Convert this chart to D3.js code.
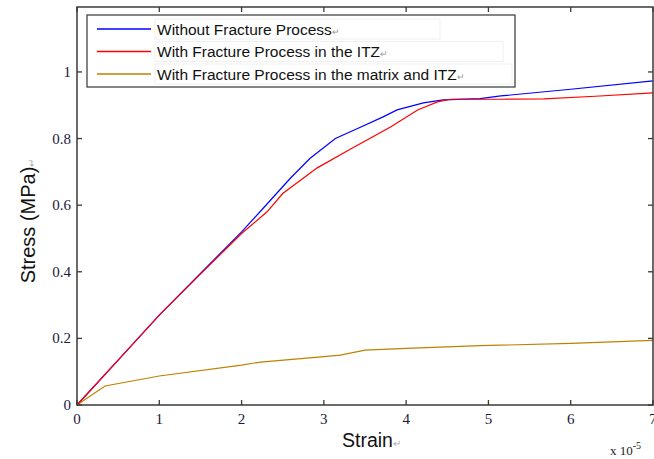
<!DOCTYPE html>
<html>
<head>
<meta charset="utf-8">
<script src="https://cdn.jsdelivr.net/npm/d3@7"></script>
<style>
  html, body { margin: 0; padding: 0; background: #fff; }
  svg { display: block; }
</style>
</head>
<body>
<svg id="chart" width="654" height="459"></svg>
<script>
// Strain (x 10^-5) vs stress (MPa) for three modelling assumptions
const strainNoFrac = [0, 0.5, 1, 1.5, 2, 2.26, 2.59, 2.83, 3.14, 3.41, 3.72, 3.89, 4.21, 4.45, 4.9, 5.15, 6, 7.0];
const stressNoFrac = [0, 0.135, 0.27, 0.395, 0.52, 0.59, 0.68, 0.74, 0.80, 0.83, 0.865, 0.886, 0.907, 0.916, 0.92, 0.928, 0.948, 0.973];

const strainItz = [0, 0.5, 1, 1.5, 2, 2.31, 2.5, 2.92, 3.32, 3.81, 4.14, 4.38, 4.54, 5.15, 5.67, 6.3, 7.0];
const stressItz = [0, 0.135, 0.27, 0.393, 0.515, 0.58, 0.635, 0.712, 0.768, 0.835, 0.886, 0.91, 0.918, 0.918, 0.919, 0.927, 0.937];

const strainMatrix = [0, 0.34, 1, 2, 2.23, 3, 3.2, 3.5, 4, 4.9, 6, 7.0];
const stressMatrix = [0, 0.057, 0.087, 0.12, 0.129, 0.145, 0.15, 0.165, 0.17, 0.178, 0.185, 0.194];

const seriesNames = ["Without Fracture Process", "With Fracture Process in the ITZ", "With Fracture Process in the matrix and ITZ"];
const seriesColors = ["#0000ff", "#ff0000", "#c08000"];

const xTicks = [0, 1, 2, 3, 4, 5, 6, 7];
const yTicks = [0, 0.2, 0.4, 0.6, 0.8, 1];

const svg = d3.select("#chart");
const plot = { left: 77, right: 653, top: 7, bottom: 405 };

const x = d3.scaleLinear().domain([0, 7]).range([plot.left, plot.right]);
const y = d3.scaleLinear().domain([0, 1.195]).range([plot.bottom, plot.top]);

const tickLen = 5;
const axisColor = "#3a3a3a";
const serif = "'Liberation Serif', 'Times New Roman', serif";
const sans = "'Liberation Sans', Arial, sans-serif";

// Curves (the ITZ curve lies on top of the intact curve)
const series = [
  { xs: strainNoFrac, ys: stressNoFrac },
  { xs: strainItz, ys: stressItz },
  { xs: strainMatrix, ys: stressMatrix }
];
const line = d3.line().x(d => x(d[0])).y(d => y(d[1]));
const drawOrder = [0, 2, 1];
drawOrder.forEach(i => {
  const pts = series[i].xs.map((v, k) => [v, series[i].ys[k]]);
  svg.append("path")
    .datum(pts)
    .attr("d", line)
    .attr("fill", "none")
    .attr("stroke", seriesColors[i])
    .attr("stroke-width", 1.2);
});

// Frame
svg.append("rect")
  .attr("x", plot.left).attr("y", plot.top)
  .attr("width", plot.right - plot.left).attr("height", plot.bottom - plot.top)
  .attr("fill", "none").attr("stroke", axisColor).attr("stroke-width", 1.5);

// Inward ticks on all four sides
const tg = svg.append("g").attr("stroke", axisColor).attr("stroke-width", 1.3);
xTicks.forEach(t => {
  tg.append("line").attr("x1", x(t)).attr("x2", x(t)).attr("y1", plot.bottom).attr("y2", plot.bottom - tickLen);
  tg.append("line").attr("x1", x(t)).attr("x2", x(t)).attr("y1", plot.top).attr("y2", plot.top + tickLen);
});
yTicks.forEach(t => {
  tg.append("line").attr("x1", plot.left).attr("x2", plot.left + tickLen).attr("y1", y(t)).attr("y2", y(t));
  tg.append("line").attr("x1", plot.right).attr("x2", plot.right - tickLen).attr("y1", y(t)).attr("y2", y(t));
});

// Tick labels
svg.append("g").selectAll("text").data(xTicks).join("text")
  .attr("x", d => x(d)).attr("y", plot.bottom + 19)
  .attr("text-anchor", "middle")
  .attr("font-family", serif).attr("font-size", 15).attr("fill", "#1a1a3a")
  .text(d => d3.format("d")(d));

svg.append("g").selectAll("text").data(yTicks).join("text")
  .attr("x", plot.left - 6).attr("y", d => y(d) + 5)
  .attr("text-anchor", "end")
  .attr("font-family", serif).attr("font-size", 15).attr("fill", "#1a1a3a")
  .text(d => d === 0 ? "0" : d3.format("")(d));

// Axis titles
const xTitle = svg.append("text")
  .attr("x", 342).attr("y", 447)
  .attr("font-family", sans).attr("font-size", 19.5).attr("fill", "#111");
xTitle.append("tspan").text("Strain");
xTitle.append("tspan").attr("font-size", 10).attr("fill", "#aaa").text("\u21b5");

const yTitle = svg.append("text")
  .attr("transform", "translate(35,221) rotate(-90)")
  .attr("text-anchor", "middle")
  .attr("font-family", sans).attr("font-size", 20).attr("fill", "#111");
yTitle.append("tspan").text("Stress (MPa)");
yTitle.append("tspan").attr("font-size", 10).attr("fill", "#aaa").text("\u21b5");

// Exponent note
const expo = svg.append("text")
  .attr("x", 610).attr("y", 455)
  .attr("font-family", serif).attr("font-size", 13).attr("fill", "#222");
expo.append("tspan").text("x 10");
expo.append("tspan").attr("dy", -6).attr("font-size", 10).text("-5");

// Legend
const leg = svg.append("g");
leg.append("rect")
  .attr("x", 87).attr("y", 15).attr("width", 428).attr("height", 72)
  .attr("fill", "#fff").attr("stroke", "#444").attr("stroke-width", 1.3);
const rowY = [29, 51.5, 74];
const textBoxW = [285, 348, 357];
seriesNames.forEach((name, i) => {
  leg.append("rect")
    .attr("x", 155).attr("y", rowY[i] - 10).attr("width", textBoxW[i]).attr("height", 20)
    .attr("fill", "none").attr("stroke", "#f0f0f0").attr("stroke-width", 1);
  leg.append("line")
    .attr("x1", 97).attr("x2", 151).attr("y1", rowY[i]).attr("y2", rowY[i])
    .attr("stroke", seriesColors[i]).attr("stroke-width", 1.3);
  const t = leg.append("text")
    .attr("x", 157).attr("y", rowY[i] + 5.5)
    .attr("font-family", sans).attr("font-size", 15.5).attr("fill", "#111");
  t.append("tspan").text(name);
  t.append("tspan").attr("font-size", 9).attr("fill", "#999").text("\u21b5");
});
</script>
</body>
</html>
